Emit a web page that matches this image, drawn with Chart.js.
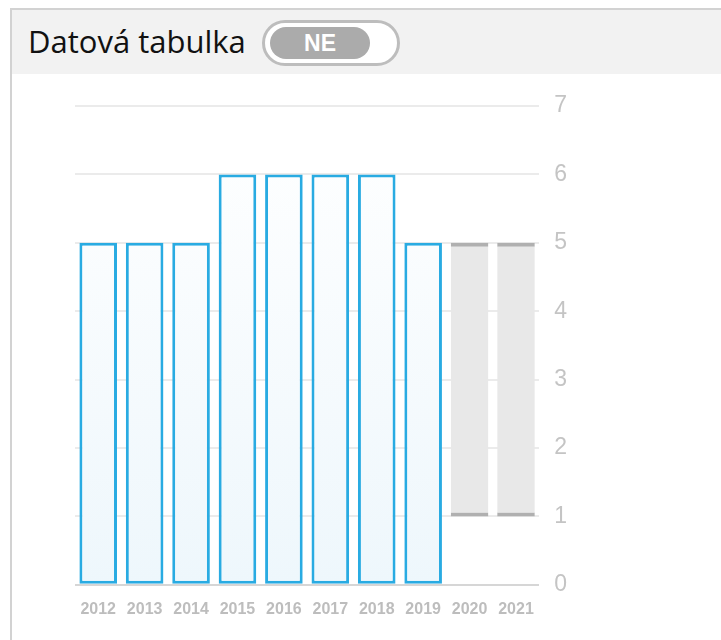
<!DOCTYPE html>
<html>
<head>
<meta charset="utf-8">
<script src="https://cdn.jsdelivr.net/npm/chart.js@4/dist/chart.umd.min.js"></script>
<style>
    html, body { margin: 0; padding: 0; background: #fff; width: 721px; height: 640px; overflow: hidden; }
    .panel { position: absolute; left: 10px; top: 8px; width: 720px; height: 640px; border: 2px solid #d2d2d2; box-sizing: border-box; background: #fff; }
    .head { position: absolute; left: 0; top: 0; right: 0; height: 64px; background: #f2f2f2; }
    .head .title { position: absolute; left: 16px; top: 10px; font: 31px "Open Sans", sans-serif; color: #111; }
    .toggle { position: absolute; left: 250px; top: 10px; width: 138px; height: 46px; border: 3px solid #bdbdbd; border-radius: 23px; box-sizing: border-box; background: #fff; }
    .toggle .knob { position: absolute; left: 5px; top: 4px; width: 100px; height: 32px; border-radius: 16px; background: #ababab; color: #fff; font: bold 23px "Liberation Sans", Arial, sans-serif; text-align: center; line-height: 32px; }
    #wrap { position: absolute; left: 0; top: 73px; width: 721px; height: 567px; }
</style>
</head>
<body>
<div class="panel">
    <div class="head">
        <div class="title">Datová tabulka</div>
        <div class="toggle"><div class="knob">NE</div></div>
    </div>
</div>
<div id="wrap"><canvas id="chart"></canvas></div>
<script>
// data
var years = ['2012', '2013', '2014', '2015', '2016', '2017', '2018', '2019', '2020', '2021'];
var actual = [5, 5, 5, 6, 6, 6, 6, 5, null, null];
var forecastLow = [null, null, null, null, null, null, null, null, 1, 1];
var forecastHigh = [null, null, null, null, null, null, null, null, 5, 5];
var yTicks = [0, 1, 2, 3, 4, 5, 6, 7];

(function () {
    var ctx = document.getElementById('chart').getContext('2d');

    var forecast = forecastLow.map(function (lo, i) {
        return lo === null ? null : [lo, forecastHigh[i]];
    });

    function blueFill(context) {
        var area = context.chart.chartArea;
        if (!area) return '#f3f9fd';
        var g = context.chart.ctx.createLinearGradient(0, area.top, 0, area.bottom);
        g.addColorStop(0, '#ffffff');
        g.addColorStop(1, '#eef7fc');
        return g;
    }

    new Chart(ctx, {
        type: 'bar',
        data: {
            labels: years,
            datasets: [
                {
                    label: 'Skutečnost',
                    data: actual,
                    backgroundColor: blueFill,
                    borderColor: '#29abe2',
                    borderWidth: 3,
                    borderSkipped: false,
                    barPercentage: 0.81,
                    categoryPercentage: 1
                },
                {
                    label: 'Výhled',
                    data: forecast,
                    backgroundColor: '#e8e8e8',
                    borderColor: '#b0b0b0',
                    borderWidth: { top: 4, bottom: 4, left: 0, right: 0 },
                    borderSkipped: false,
                    barPercentage: 0.81,
                    categoryPercentage: 1
                }
            ]
        },
        options: {
            responsive: true,
            maintainAspectRatio: false,
            animation: false,
            grouped: false,
            layout: { padding: { left: 75, right: 139, top: 33, bottom: 6 } },
            plugins: { legend: { display: false }, tooltip: { enabled: false } },
            scales: {
                x: {
                    grid: { display: false, drawTicks: false },
                    border: { display: false },
                    ticks: {
                        color: '#bdbdbd',
                        font: { family: 'Liberation Sans', size: 16, weight: 'bold' },
                        autoSkip: false,
                        maxRotation: 0,
                        padding: 15
                    }
                },
                y: {
                    position: 'right',
                    min: 0,
                    max: 7,
                    afterBuildTicks: function (axis) {
                        axis.ticks = yTicks.map(function (v) { return { value: v }; });
                    },
                    grid: {
                        drawTicks: false,
                        lineWidth: 2,
                        color: function (c) { return c.tick && c.tick.value === 0 ? '#d6d6d6' : '#ebebeb'; }
                    },
                    border: { display: false },
                    ticks: {
                        color: '#c4c4c4',
                        font: { family: 'Liberation Sans', size: 23 },
                        padding: 15
                    }
                }
            }
        }
    });
})();
</script>
</body>
</html>
